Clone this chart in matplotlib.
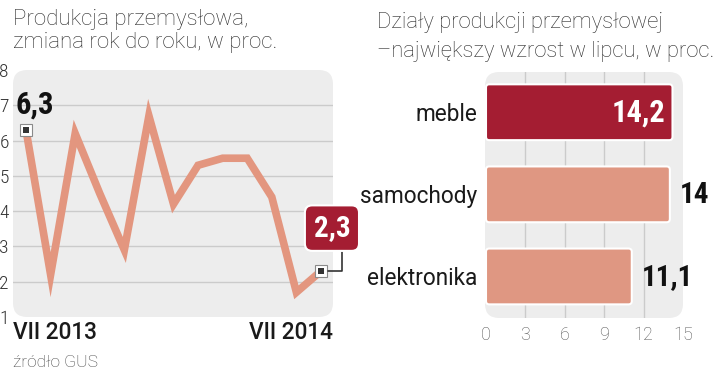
#!/usr/bin/env python3

import matplotlib
matplotlib.use("Agg")
import matplotlib.pyplot as plt
from matplotlib.patches import FancyBboxPatch

# produkcja przemyslowa r/r, VII 2013 .. VII 2014
months = list(range(13))
production = [6.3, 2.2, 6.2, 4.5, 2.9, 6.7, 4.2, 5.3, 5.5, 5.5, 4.4, 1.7, 2.3]
month_labels = ["VII 2013", "VII 2014"]
prod_ticks = [1, 2, 3, 4, 5, 6, 7, 8]

# dzialy z najwiekszym wzrostem w lipcu
branches = ["meble", "samochody", "elektronika"]
growth = [14.2, 14.0, 11.1]
growth_ticks = [0, 3, 6, 9, 12, 15]

RED = "#a41d32"
SALMON = "#df9782"
LINE = "#e3967f"
PANEL = "#ededed"
GRID = "#cbcbcb"

NARROW = ["Liberation Sans Narrow", "Roboto Condensed", "DejaVu Sans"]
THIN = ["Roboto Condensed", "Roboto", "DejaVu Sans"]
SANS = ["Roboto", "DejaVu Sans"]

W, H = 720, 372


def pl(x):
  # polish decimal comma
  s = f"{x:.1f}".rstrip("0").rstrip(".")
  return s.replace(".", ",")


def px_axes(fig, left, top, right, bottom):
  return fig.add_axes([left / W, 1 - bottom / H, (right - left) / W, (bottom - top) / H])


def panel(ax, wpx, hpx, r=14):
  p = FancyBboxPatch((0, 0), 1, 1, boxstyle=f"round,pad=0,rounding_size={r / wpx}",
                     mutation_aspect=wpx / hpx, transform=ax.transAxes,
                     fc=PANEL, ec="none", zorder=0.1, clip_on=False)
  ax.add_patch(p)
  ax.patch.set_visible(False)
  for s in ax.spines.values():
    s.set_visible(False)


def main():
  plt.rcParams["font.family"] = SANS
  fig = plt.figure(figsize=(W / 100, H / 100), dpi=100, facecolor="white")

  # titles
  tcol = "#2b2b2b"
  fig.text(13 / W, 1 - 25 / H, "Produkcja przemysłowa,", fontsize=16, weight="light", color=tcol)
  fig.text(13 / W, 1 - 48 / H, "zmiana rok do roku, w proc.", fontsize=16, weight="light", color=tcol)
  fig.text(377 / W, 1 - 28 / H, "Działy produkcji przemysłowej", fontsize=15.8, weight="light", color=tcol)
  fig.text(377 / W, 1 - 57 / H, "–największy wzrost w lipcu, w proc.", fontsize=15.8, weight="light", color=tcol)
  fig.text(13 / W, 1 - 367 / H, "źródło GUS", fontsize=12.5, weight="light", color="#444")

  # ---- left: line chart
  ax1 = px_axes(fig, 13, 70, 333, 317)
  panel(ax1, 320, 247)
  ax1.set_xlim(-0.53, 12.49)
  ax1.set_ylim(prod_ticks[0], prod_ticks[-1])
  ax1.set_yticks(prod_ticks)
  ax1.set_yticklabels([str(t) for t in prod_ticks], fontsize=14, weight="light",
                      family=THIN, color="#333")
  ax1.set_xticks([])
  ax1.tick_params(axis="y", length=0, pad=3)
  ax1.set_axisbelow(True)
  ax1.grid(axis="y", color=GRID, lw=1)
  gl = ax1.get_ygridlines()
  gl[0].set_visible(False)
  gl[-1].set_visible(False)

  ax1.plot(months, production, color=LINE, lw=5.5, solid_joinstyle="miter",
           solid_capstyle="butt", zorder=3, clip_on=False)

  ends = [0, len(months) - 1]
  ex = [months[i] for i in ends]
  ey = [production[i] for i in ends]
  ax1.plot(ex, ey, "s", ms=8, mfc="white", mec="#8a8a8a", mew=0.8, zorder=4, clip_on=False)
  ax1.plot(ex, ey, "s", ms=3.8, mfc="#333", mew=0, zorder=5, clip_on=False)

  ax1.annotate(pl(production[0]), xy=(months[0], production[0]), xytext=(9, 25),
               textcoords="offset pixels", ha="center", va="center",
               fontsize=22, weight="bold", family=NARROW, color="#111", zorder=6)

  ax1.annotate(pl(production[-1]), xy=(months[-1], production[-1]), xytext=(11, 43),
               textcoords="offset pixels", ha="center", va="center",
               fontsize=21, weight="bold", family=NARROW, color="white", zorder=6,
               bbox=dict(boxstyle="round,pad=0.3,rounding_size=0.25", fc=RED, ec="white", lw=1.5),
               arrowprops=dict(arrowstyle="-", color="#333", lw=1.2, shrinkA=0, shrinkB=5,
                               relpos=(0.77, 0),
                               connectionstyle="angle,angleA=90,angleB=0,rad=0"))

  ax1.text(0, -0.015, month_labels[0], transform=ax1.transAxes, ha="left", va="top",
           fontsize=16.3, weight="medium", color="#1a1a1a")
  ax1.text(1, -0.015, month_labels[1], transform=ax1.transAxes, ha="right", va="top",
           fontsize=16.3, weight="medium", color="#1a1a1a")

  # ---- right: bars
  ax2 = px_axes(fig, 485, 72, 683, 318)
  panel(ax2, 198, 246)
  ax2.set_xlim(-0.076, growth_ticks[-1])
  ax2.set_ylim(2.506, -0.49)
  ax2.set_xticks(growth_ticks)
  ax2.set_xticklabels([str(t) for t in growth_ticks], fontsize=13, weight="light", color="#555")
  ax2.tick_params(axis="x", length=0, pad=6)
  ax2.set_yticks(range(len(branches)))
  ax2.set_yticklabels(branches, fontsize=16.3, color="#1a1a1a")
  ax2.tick_params(axis="y", length=0, pad=5.5)
  ax2.set_axisbelow(True)
  ax2.grid(axis="x", color=GRID, lw=1)
  gl = ax2.get_xgridlines()
  gl[0].set_visible(False)
  gl[-1].set_visible(False)

  colors = [RED, SALMON, SALMON]
  bars = ax2.barh(range(len(branches)), growth, height=0.68, color=colors)
  # rounded corners instead of plain rectangles
  for b, c in zip(bars, colors):
    rb = FancyBboxPatch((b.get_x(), b.get_y()), b.get_width(), b.get_height(),
                        boxstyle="round,pad=0,rounding_size=0.25", mutation_aspect=0.16,
                        fc=c, ec="white", lw=1.5, zorder=2)
    ax2.add_patch(rb)
    b.set_visible(False)

  for i, v in enumerate(growth):
    if i == 0:
      ax2.annotate(pl(v), xy=(v, i), xytext=(-7, 0), textcoords="offset pixels",
                   ha="right", va="center", fontsize=22, weight="bold",
                   family=NARROW, color="white", zorder=5)
    else:
      ax2.annotate(pl(v), xy=(v, i), xytext=(10, -1), textcoords="offset pixels",
                   ha="left", va="center", fontsize=21, weight="bold",
                   family=NARROW, color="#111", zorder=5, annotation_clip=False)

  fig.savefig("out.png", dpi=100, facecolor="white")


if __name__ == "__main__":
  main()
